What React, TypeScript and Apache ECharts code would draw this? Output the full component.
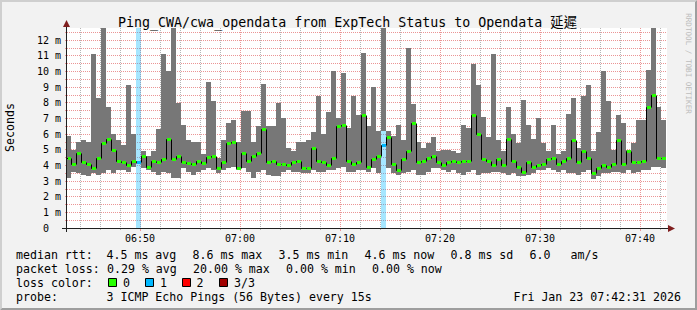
import React, { useEffect, useRef } from 'react';
import * as echarts from 'echarts';

const FONT = '"DejaVu Sans Mono", "Liberation Mono", "Noto Sans CJK TC", monospace';

const TITLE = 'Ping_CWA/cwa_opendata from ExpTech Status to Opendata 延遲';
const Y_AXIS_NAME = 'Seconds';
const WATERMARK = 'RRDTOOL / TOBI OETIKER';

// time window (clock times) and sampling of the smoke/median steps
const WINDOW_START = '06:42:42';
const WINDOW_END = '07:42:42';
const FIRST_STEP_START = '06:42:35';
const STEP_SECONDS = 30;

// round-trip times in ms, one entry per step
const rttMax = [
  5.9, 5.0, 5.5, 5.6, 5.5, 11.1, 8.3, 12.8, 7.7, 6.0,
  5.6, 5.3, 9.1, 6.0, 4.3, 4.9, 4.6, 4.9, 6.3, 11.1,
  10.0, 12.8, 8.0, 6.6, 5.6, 5.5, 5.5, 4.7, 9.3, 8.1,
  4.5, 5.6, 6.7, 6.9, 5.5, 7.5, 7.5, 5.5, 6.5, 9.2,
  6.5, 6.5, 8.0, 7.0, 5.1, 4.9, 5.5, 5.5, 5.6, 6.1,
  8.4, 6.0, 7.4, 10.0, 7.0, 9.9, 6.4, 8.4, 7.2, 11.2,
  6.5, 9.0, 6.2, 12.8, 6.2, 5.9, 6.6, 5.6, 11.5, 7.9,
  5.5, 5.1, 5.4, 5.8, 4.9, 5.0, 5.0, 4.9, 4.8, 6.6,
  6.4, 10.5, 9.1, 7.1, 5.8, 11.1, 5.6, 4.9, 7.7, 6.0,
  5.4, 8.2, 6.6, 5.7, 7.0, 5.4, 4.9, 6.6, 4.7, 4.9,
  7.3, 8.3, 5.1, 8.4, 9.1, 4.9, 6.1, 10.0, 8.1, 5.0,
  7.2, 6.7, 5.0, 5.4, 6.9, 6.9, 10.1, 12.8, 7.7, 6.9,
];
const rttMin = [
  3.2, 3.6, 3.5, 3.4, 3.3, 3.5, 3.4, 3.5, 3.7, 3.5,
  3.7, 3.7, 3.6, 3.9, 4.1, 3.8, 3.7, 3.6, 3.4, 3.6,
  3.5, 3.2, 3.2, 3.8, 3.6, 3.4, 3.6, 3.7, 3.8, 3.7,
  3.5, 3.7, 3.8, 3.9, 3.7, 3.8, 3.6, 3.2, 3.6, 3.7,
  3.4, 3.3, 3.3, 3.6, 3.7, 3.6, 3.6, 3.5, 3.5, 3.7,
  3.6, 3.6, 3.7, 3.7, 3.8, 3.9, 3.6, 3.6, 3.7, 3.7,
  3.6, 3.8, 3.5, 6.2, 3.8, 3.5, 3.4, 3.5, 3.6, 3.7,
  3.4, 3.4, 3.6, 3.8, 3.8, 3.7, 3.6, 3.7, 3.5, 3.4,
  3.6, 3.7, 3.4, 3.5, 3.5, 3.6, 3.6, 3.5, 3.4, 3.5,
  3.3, 3.3, 3.4, 3.5, 3.7, 3.7, 3.8, 3.7, 3.6, 3.7,
  3.5, 3.5, 3.4, 3.6, 3.7, 3.1, 3.3, 3.5, 3.5, 3.6,
  3.6, 3.5, 3.7, 3.5, 3.6, 3.7, 3.7, 3.9, 3.9, 3.8,
];
const rttMedian = [
  4.5, 4.1, 4.8, 4.2, 4.1, 3.8, 4.5, 5.4, 5.7, 5.0,
  4.3, 4.2, 4.0, 4.3, 4.2, 4.6, 3.9, 4.3, 4.2, 4.4,
  5.7, 4.4, 4.6, 4.2, 4.15, 4.1, 4.25, 4.15, 4.55, 4.6,
  3.8, 4.2, 5.4, 5.5, 3.8, 4.8, 4.3, 4.6, 4.8, 6.3,
  4.2, 4.3, 4.1, 4.1, 4.0, 4.2, 4.3, 3.8, 3.8, 5.1,
  4.3, 4.2, 4.0, 4.5, 6.5, 6.6, 4.3, 4.1, 4.2, 7.2,
  3.9, 4.4, 4.6, 5.3, 5.8, 4.1, 3.7, 4.4, 4.9, 6.7,
  4.2, 4.3, 4.5, 4.6, 4.2, 4.0, 4.2, 4.3, 4.2, 4.3,
  4.3, 7.2, 6.0, 4.4, 4.3, 4.0, 4.4, 4.0, 5.7, 4.3,
  3.9, 3.6, 4.2, 3.9, 4.0, 4.1, 4.4, 4.5, 4.1, 4.3,
  4.5, 5.6, 4.2, 4.9, 4.5, 3.5, 3.8, 4.0, 3.9, 4.1,
  5.6, 4.1, 4.9, 4.2, 4.2, 4.3, 7.7, 8.5, 4.5, 4.5,
];
// steps in which 1 of 3 pings was lost
const lossStepIndex = [14, 63];

const xMajorTicks = ['06:50', '07:00', '07:10', '07:20', '07:30', '07:40'];
const xMinorTicks = [
  '06:44', '06:46', '06:48', '06:52', '06:54', '06:56', '06:58',
  '07:02', '07:04', '07:06', '07:08', '07:12', '07:14', '07:16', '07:18',
  '07:22', '07:24', '07:26', '07:28', '07:32', '07:34', '07:36', '07:38', '07:42',
];
const yLabelTicks = [0, 1, 2, 3, 4, 5, 6, 7, 8, 9, 10, 11, 12];
const yGridTicks = [
  0, 0.5, 1, 1.5, 2, 2.5, 3, 3.5, 4, 4.5, 5, 5.5, 6, 6.5,
  7, 7.5, 8, 8.5, 9, 9.5, 10, 10.5, 11, 11.5, 12, 12.5,
];
const Y_MAX = 12.77;

const medianLabel = 'median rtt:';
const medianStats = ['4.5 ms avg', '8.6 ms max', '3.5 ms min', '4.6 ms now', '0.8 ms sd', '6.0', 'am/s'];
const lossLabel = 'packet loss:';
const lossStats = ['0.29 % avg', '20.00 % max', '0.00 % min', '0.00 % now'];
const lossColorLabel = 'loss color:';
const lossColorKeys = ['0', '1', '2', '3/3'];
const probeLabel = 'probe:';
const probeText = '3 ICMP Echo Pings (56 Bytes) every 15s';
const timestampText = 'Fri Jan 23 07:42:31 2026';

// colours
const LOSS_COLORS = ['#26ff00', '#00b8ff', '#ff0000', '#a10000'];
const SMOKE = '#777777';
const MGRID = '#eb9595';
const GRID = '#b4b4b4';
const ARROW = '#801f1f';
const AXIS = '#1f1f1f';

const toSec = (s: string) => {
  const p = s.split(':').map(Number);
  return p[0] * 3600 + p[1] * 60 + (p[2] || 0);
};
const fmtHM = (v: number) => {
  const h = Math.floor(v / 3600);
  const m = Math.round((v - h * 3600) / 60);
  return `${String(h).padStart(2, '0')}:${String(m).padStart(2, '0')}`;
};

function buildOption() {
  const xMin = toSec(WINDOW_START);
  const xMax = toSec(WINDOW_END);
  const t0 = toSec(FIRST_STEP_START);
  const stepStart = rttMedian.map((_, i) => t0 + i * STEP_SECONDS);
  const majorVals = xMajorTicks.map(toSec);
  const minorVals = xMinorTicks.map(toSec);

  const lossData = lossStepIndex.map((i) => [stepStart[i], 0]);
  const smokeData = stepStart.map((t, i) => [t, rttMin[i], rttMax[i]]);
  const medianData = stepStart.map((t, i) => [
    t,
    rttMedian[i],
    i > 0 ? rttMedian[i - 1] : rttMedian[i],
    lossStepIndex.includes(i) ? 1 : 0,
    i,
  ]);

  const stepX = (api: any, cs: any, t: number, v: number) => {
    const a = api.coord([t, v]);
    const b = api.coord([t + STEP_SECONDS, v]);
    const x0 = Math.max(Math.round(a[0]), cs.x);
    const x1 = Math.min(Math.round(b[0]), cs.x + cs.width);
    return { x0, x1, y: a[1], clipped: Math.round(a[0]) < cs.x };
  };

  const graphics: any[] = [];
  const txt = (text: string, x: number, y: number, size: number, extra: any = {}) =>
    graphics.push({
      type: 'text',
      x,
      y,
      silent: true,
      z: 100,
      ...extra,
      style: {
        text,
        fill: extra.fill || '#000',
        fontFamily: FONT,
        fontSize: size,
        align: extra.align || 'left',
        verticalAlign: 'middle',
      },
    });

  // frame shading
  graphics.push({
    type: 'polygon', silent: true, z: 100,
    shape: { points: [[0, 0], [697, 0], [695, 2], [2, 2], [2, 308], [0, 310]] },
    style: { fill: '#cfcfcf' },
  });
  graphics.push({
    type: 'polygon', silent: true, z: 100,
    shape: { points: [[697, 310], [697, 0], [695, 2], [695, 308], [2, 308], [0, 310]] },
    style: { fill: '#9e9e9e' },
  });
  // axis extensions and arrows
  graphics.push({ type: 'line', silent: true, z: 100, shape: { x1: 62, y1: 228.5, x2: 670, y2: 228.5 }, style: { stroke: AXIS, lineWidth: 1 } });
  graphics.push({ type: 'line', silent: true, z: 100, shape: { x1: 66.5, y1: 24, x2: 66.5, y2: 232 }, style: { stroke: AXIS, lineWidth: 1 } });
  graphics.push({ type: 'polygon', silent: true, z: 101, shape: { points: [[668, 225], [668, 232], [675, 228.5]] }, style: { fill: ARROW } });
  graphics.push({ type: 'polygon', silent: true, z: 101, shape: { points: [[63, 27], [70, 27], [66.5, 20]] }, style: { fill: ARROW } });

  // title, axis name, watermark
  txt(TITLE, 347.5, 22.5, 13.3, { align: 'center' });
  txt(Y_AXIS_NAME, 10, 127.5, 11.6, { align: 'center', rotation: Math.PI / 2 });
  txt(WATERMARK, 688, 63.5, 7.6, { align: 'center', rotation: -Math.PI / 2, fill: '#bdbdbd' });

  // legend rows
  const rowY = [255, 269, 283, 297];
  txt(medianLabel, 16, rowY[0], 11.6);
  const medianX = [106.5, 192.5, 278.5, 364.5, 450.5, 529.5, 570.5];
  medianStats.forEach((s, i) => txt(s, medianX[i], rowY[0], 11.6));
  txt(lossLabel, 16, rowY[1], 11.6);
  const lossX = [107, 193, 286, 372];
  lossStats.forEach((s, i) => txt(s, lossX[i], rowY[1], 11.6));
  txt(lossColorLabel, 16, rowY[2], 11.6);
  const boxX = [108.5, 145.5, 182.5, 219.5];
  const keyX = [123, 160, 196.5, 234];
  lossColorKeys.forEach((k, i) => {
    graphics.push({
      type: 'rect', silent: true, z: 100,
      shape: { x: boxX[i], y: 278.5, width: 8, height: 8 },
      style: { fill: LOSS_COLORS[i], stroke: '#000', lineWidth: 1 },
    });
    txt(k, keyX[i], rowY[2], 11.6);
  });
  txt(probeLabel, 16, rowY[3], 11.6);
  txt(probeText, 106.5, rowY[3], 11.6);
  txt(timestampText, 681, rowY[3], 11.6, { align: 'right' });

  const axisLabelFont = { fontFamily: FONT, fontSize: 10, color: '#000' };

  return {
    animation: false,
    backgroundColor: '#f2f2f2',
    textStyle: { fontFamily: FONT },
    grid: {
      left: 67, right: 30, top: 28, bottom: 82,
      show: true, backgroundColor: '#ffffff', borderWidth: 0,
      containLabel: false, outerBoundsMode: 'none',
    },
    xAxis: [
      {
        type: 'value', min: xMin, max: xMax, position: 'bottom', offset: 0,
        axisLine: { show: false, onZero: false },
        axisLabel: { show: false },
        axisTick: { show: true, customValues: minorVals, length: 2, lineStyle: { color: GRID } },
        splitLine: { show: true, lineStyle: { color: GRID, width: 1, type: [1, 1] } },
      },
      {
        type: 'value', min: xMin, max: xMax, position: 'bottom', offset: 0,
        axisLine: { show: false, onZero: false },
        axisTick: { show: true, customValues: majorVals, length: 3, lineStyle: { color: MGRID } },
        axisLabel: {
          show: true, customValues: majorVals, margin: 5,
          formatter: (v: number) => fmtHM(v), ...axisLabelFont,
        },
        splitLine: { show: true, lineStyle: { color: MGRID, width: 1, type: [1, 1] } },
      },
    ],
    yAxis: [
      {
        type: 'value', min: 0, max: Y_MAX, position: 'left',
        axisLine: { show: false, onZero: false },
        axisTick: { show: true, customValues: yGridTicks, length: 2, lineStyle: { color: MGRID } },
        axisLabel: {
          show: true, customValues: yLabelTicks, margin: 6,
          formatter: (v: number) => (v === 0 ? '{z|0}' : `${v} m`),
          rich: { z: { padding: [0, 12, 0, 0], ...axisLabelFont } },
          ...axisLabelFont,
        },
        splitLine: { show: true, lineStyle: { color: MGRID, width: 1, type: [1, 1] } },
      },
    ],
    graphic: { elements: graphics },
    series: [
      {
        name: 'loss', type: 'custom', xAxisIndex: 1, yAxisIndex: 0, z: 2,
        data: lossData, encode: { x: 0, y: 1 }, silent: true,
        renderItem: (params: any, api: any) => {
          const cs = params.coordSys;
          const t = api.value(0);
          const s = stepX(api, cs, t, 0);
          return {
            type: 'rect',
            shape: { x: s.x0, y: cs.y, width: s.x1 - s.x0, height: cs.height },
            style: { fill: 'rgba(0,184,255,0.35)' },
          };
        },
      },
      {
        name: 'smoke', type: 'custom', xAxisIndex: 1, yAxisIndex: 0, z: 3,
        data: smokeData, encode: { x: 0, y: [1, 2] }, silent: true,
        renderItem: (params: any, api: any) => {
          const cs = params.coordSys;
          const t = api.value(0), lo = api.value(1), hi = api.value(2);
          const s = stepX(api, cs, t, lo);
          const yBot = Math.round(api.coord([t, lo])[1]);
          const yTop = Math.max(Math.round(api.coord([t, hi])[1]), cs.y);
          if (s.x1 <= s.x0 || yBot <= yTop) return null;
          return {
            type: 'rect',
            shape: { x: s.x0, y: yTop, width: s.x1 - s.x0, height: yBot - yTop },
            style: { fill: SMOKE },
          };
        },
      },
      {
        name: 'median line', type: 'custom', xAxisIndex: 1, yAxisIndex: 0, z: 4,
        data: medianData, encode: { x: 0, y: 1 }, silent: true,
        renderItem: (params: any, api: any) => {
          const cs = params.coordSys;
          const t = api.value(0), m = api.value(1), prev = api.value(2);
          const s = stepX(api, cs, t, m);
          const ym = Math.round(api.coord([t, m])[1]) + 0.5;
          const yp = Math.round(api.coord([t, prev])[1]) + 0.5;
          const xb = s.x0 + 0.5;
          const pts = s.clipped ? [[s.x0, ym], [s.x1, ym]] : [[xb, yp], [xb, ym], [s.x1, ym]];
          return {
            type: 'polyline',
            shape: { points: pts },
            style: { stroke: '#000', lineWidth: 1, fill: null },
          };
        },
      },
      {
        name: 'median', type: 'custom', xAxisIndex: 1, yAxisIndex: 0, z: 5,
        data: medianData, encode: { x: 0, y: 1 }, silent: true,
        renderItem: (params: any, api: any) => {
          const cs = params.coordSys;
          const t = api.value(0), m = api.value(1), lost = api.value(3);
          const s = stepX(api, cs, t, m);
          const ym = Math.round(api.coord([t, m])[1]);
          return {
            type: 'rect',
            shape: { x: s.x0 + 1, y: ym - 1, width: s.x1 - s.x0 - 1, height: 3 },
            style: { fill: lost ? LOSS_COLORS[1] : LOSS_COLORS[0] },
          };
        },
      },
    ],
  };
}

export default function App() {
  const ref = useRef<HTMLDivElement>(null);
  useEffect(() => {
    document.body.style.margin = '0';
    const el = ref.current;
    if (!el) return;
    const chart = echarts.init(el, null, { renderer: 'svg', width: 697, height: 310 });
    chart.setOption(buildOption() as any);
    return () => chart.dispose();
  }, []);
  return <div ref={ref} style={{ width: 697, height: 310 }} />;
}
